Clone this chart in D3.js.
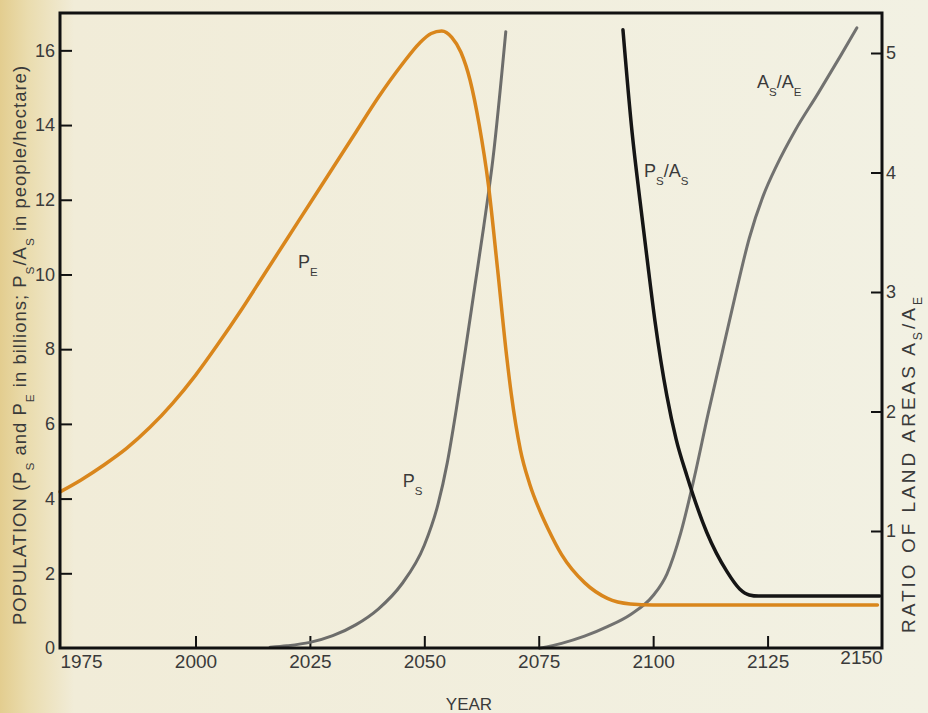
<!DOCTYPE html>
<html>
<head>
<meta charset="utf-8">
<script src="https://cdn.jsdelivr.net/npm/d3@7"></script>
<style>
  html, body { margin: 0; padding: 0; background: #f2f0e1; }
  svg { display: block; font-family: 'Liberation Sans', Arial, sans-serif; }
</style>
</head>
<body>
<div id="app"></div>
<script>
// P_E, earth population (billions), left axis
const peYears = [1970.4, 1975, 1980, 1985, 1990, 1995, 2000, 2005, 2010, 2015, 2020, 2025, 2030, 2035, 2040, 2045, 2049, 2051.5, 2053.8, 2056, 2058, 2060, 2062, 2064, 2066, 2068, 2069, 2071, 2073, 2075.5, 2077, 2080, 2085, 2090, 2095, 2100, 2149];
const peValues = [4.18, 4.5, 4.9, 5.35, 5.9, 6.55, 7.3, 8.15, 9.05, 10.0, 10.95, 11.9, 12.85, 13.8, 14.75, 15.6, 16.2, 16.45, 16.52, 16.35, 15.95, 15.2, 14.0, 12.4, 10.15, 7.8, 6.8, 5.3, 4.4, 3.6, 3.2, 2.5, 1.75, 1.33, 1.18, 1.15, 1.15];

// P_S, space population (billions), left axis
const psYears = [2016.3, 2020, 2025, 2030, 2035, 2040, 2045, 2050, 2053, 2055, 2057, 2059, 2061, 2063, 2065, 2067.8];
const psValues = [0.02, 0.06, 0.15, 0.33, 0.62, 1.05, 1.7, 2.75, 3.85, 4.95, 6.4, 8.0, 9.65, 11.3, 13.1, 16.5];

// P_S/A_S, people per hectare, left axis
const densYears = [2093.4, 2095.4, 2097.1, 2098.8, 2100.4, 2103.0, 2105.0, 2107.4, 2111.7, 2116.1, 2118.9, 2121.0, 2123.0, 2149.5];
const densValues = [16.55, 13.8, 12.0, 10.3, 8.75, 6.75, 5.6, 4.6, 3.1, 2.05, 1.58, 1.42, 1.39, 1.39];

// A_S/A_E, ratio of land areas, right axis
const ratioYears = [2075.2, 2080, 2085, 2090, 2095, 2100, 2103, 2106, 2109, 2112, 2115, 2118, 2121, 2124, 2127, 2131, 2136, 2141, 2144.5];
const ratioValues = [0.02, 0.06, 0.12, 0.2, 0.3, 0.46, 0.64, 0.98, 1.45, 1.98, 2.48, 2.98, 3.45, 3.8, 4.06, 4.35, 4.66, 4.98, 5.21];

const yearTicks = [1975, 2000, 2025, 2050, 2075, 2100, 2125, 2150];
const leftTicks = [0, 2, 4, 6, 8, 10, 12, 14, 16];
const rightTicks = [1, 2, 3, 4, 5];

const width = 928;
const height = 713;
const svg = d3.select('#app').append('svg')
  .attr('width', width)
  .attr('height', height);

// paper, a bit warmer at the left edge like the photo
const grad = svg.append('defs').append('linearGradient')
  .attr('id', 'paper')
  .attr('x1', 0).attr('x2', 1).attr('y1', 0).attr('y2', 0);
grad.append('stop').attr('offset', '0%').attr('stop-color', '#e3cd8f');
grad.append('stop').attr('offset', '3%').attr('stop-color', '#eadcae');
grad.append('stop').attr('offset', '8%').attr('stop-color', '#f1ecd8');
grad.append('stop').attr('offset', '100%').attr('stop-color', '#f2f1e3');
svg.append('rect').attr('width', width).attr('height', height).attr('fill', 'url(#paper)');

const x = d3.scaleLinear().domain([1970.4, 2150]).range([60, 882]);
const y = d3.scaleLinear().domain([0, 17]).range([648, 13]);
const y2 = d3.scaleLinear().domain([0, 5]).range([650.5, 53]);

const ink = '#3a3a3a';

// bottom axis
const gx = svg.append('g')
  .attr('transform', 'translate(0,648)')
  .call(d3.axisBottom(x).tickValues(yearTicks).tickSize(-12).tickPadding(7).tickFormat(d3.format('d')));
gx.attr('font-size', 19).attr('font-family', null);
gx.select('.domain').remove();
gx.selectAll('.tick line').attr('stroke', '#111').attr('stroke-width', 2)
  .filter(d => d === 1975 || d === 2150).remove();
gx.selectAll('.tick text').attr('fill', ink);
gx.selectAll('.tick text').filter(d => d === 2150).attr('dx', -21).attr('dy', '0.45em');

// left axis
const gy = svg.append('g')
  .attr('transform', 'translate(60,0)')
  .call(d3.axisLeft(y).tickValues(leftTicks).tickSize(-12).tickPadding(5));
gy.attr('font-size', 18).attr('font-family', null);
gy.select('.domain').remove();
gy.selectAll('.tick line').attr('stroke', '#111').attr('stroke-width', 2)
  .filter(d => d === 0).remove();
gy.selectAll('.tick text').attr('fill', ink);

// right axis
const gy2 = svg.append('g')
  .attr('transform', 'translate(882,0)')
  .call(d3.axisRight(y2).tickValues(rightTicks).tickSize(-11).tickPadding(4).tickFormat(d3.format('d')));
gy2.attr('font-size', 18).attr('font-family', null);
gy2.select('.domain').remove();
gy2.selectAll('.tick line').attr('stroke', '#111').attr('stroke-width', 2);
gy2.selectAll('.tick text').attr('fill', ink);

// curves
const lineL = d3.line().x(d => x(d[0])).y(d => y(d[1])).curve(d3.curveMonotoneX);
const lineR = d3.line().x(d => x(d[0])).y(d => y2(d[1])).curve(d3.curveMonotoneX);

const series = [
  { pts: d3.zip(psYears, psValues), line: lineL, color: '#6d6d6b', w: 3 },
  { pts: d3.zip(ratioYears, ratioValues), line: lineR, color: '#727270', w: 3 },
  { pts: d3.zip(peYears, peValues), line: lineL, color: '#d9861c', w: 3.5 },
  { pts: d3.zip(densYears, densValues), line: lineL, color: '#151515', w: 3.5 }
];
svg.append('g').selectAll('path')
  .data(series)
  .join('path')
  .attr('d', d => d.line(d.pts))
  .attr('fill', 'none')
  .attr('stroke', d => d.color)
  .attr('stroke-width', d => d.w)
  .attr('stroke-linejoin', 'round')
  .attr('stroke-linecap', 'round');

// frame
svg.append('rect')
  .attr('x', x.range()[0]).attr('y', y.range()[1])
  .attr('width', x.range()[1] - x.range()[0])
  .attr('height', y.range()[0] - y.range()[1])
  .attr('fill', 'none')
  .attr('stroke', '#111')
  .attr('stroke-width', 3);

// text with subscripts: parts = [[text, isSub], ...]
function rich(sel, parts, size, k = 0.42) {
  const shift = size * k;
  let down = false;
  parts.forEach(([t, sub]) => {
    const ts = sel.append('tspan').text(t);
    if (sub) {
      ts.attr('font-size', size * 0.64).attr('dy', down ? 0 : shift);
      down = true;
    } else {
      ts.attr('dy', down ? -shift : 0);
      down = false;
    }
  });
  return sel;
}

const curveLabels = [
  { year: 2022.4, value: 10.17, parts: [['P'], ['E', true]] },
  { year: 2045.3, value: 4.31, parts: [['P'], ['S', true]] },
  { year: 2098.0, value: 12.61, parts: [['P'], ['S', true], ['/A'], ['S', true]] },
  { year: 2122.7, value: 14.99, parts: [['A'], ['S', true], ['/A'], ['E', true]] }
];
curveLabels.forEach(l => {
  const t = svg.append('text')
    .attr('x', x(l.year)).attr('y', y(l.value))
    .attr('font-size', 18).attr('fill', ink);
  rich(t, l.parts, 18);
});

// axis titles
svg.append('text')
  .attr('x', 469).attr('y', 710)
  .attr('text-anchor', 'middle')
  .attr('font-size', 17).attr('fill', ink)
  .text('YEAR');

const leftTitle = svg.append('text')
  .attr('transform', 'translate(26,345) rotate(-90)')
  .attr('text-anchor', 'middle')
  .attr('font-size', 18.5).attr('letter-spacing', 1).attr('fill', ink);
rich(leftTitle, [['POPULATION (P'], ['S', true], [' and P'], ['E', true], [' in billions; P'], ['S', true], ['/A'], ['S', true], [' in people/hectare)']], 18.5);

const rightTitle = svg.append('text')
  .attr('transform', 'translate(915,633) rotate(-90)')
  .attr('font-size', 19).attr('letter-spacing', 3).attr('fill', ink);
rich(rightTitle, [['RATIO OF LAND AREAS  A'], ['S', true], ['/A'], ['E', true]], 19, 0.36);
</script>
</body>
</html>
